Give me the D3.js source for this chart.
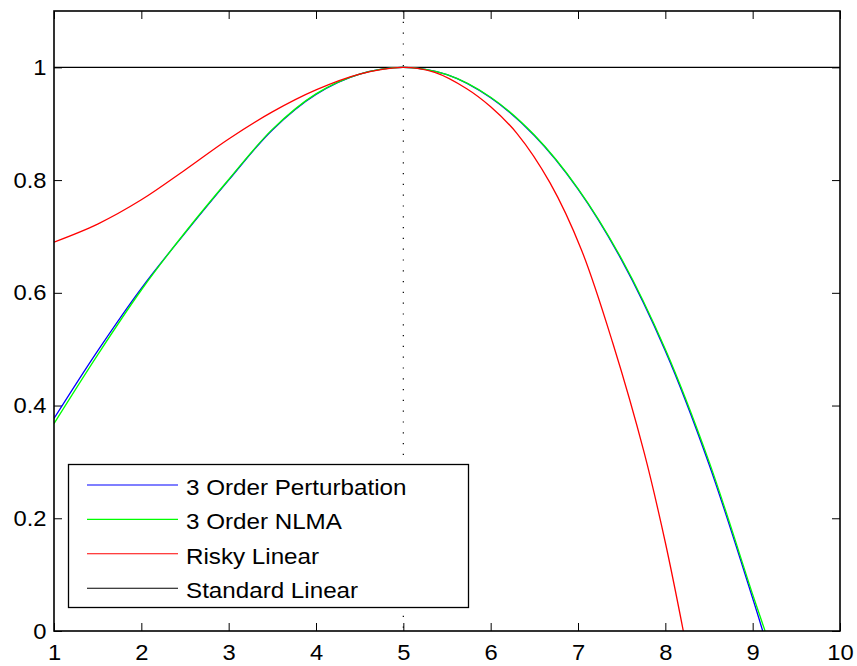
<!DOCTYPE html>
<html>
<head>
<meta charset="utf-8">
<script src="https://cdn.jsdelivr.net/npm/d3@7"></script>
<style>
  html, body { margin: 0; padding: 0; background: #fff; }
  svg { display: block; }
  text { font-family: "Liberation Sans", Arial, Helvetica, sans-serif; fill: #000; }
</style>
</head>
<body>
<svg id="chart" width="857" height="666"></svg>
<script>
// ---- Data ----
const xTicks = [1, 2, 3, 4, 5, 6, 7, 8, 9, 10];
const yTicks = [0, 0.2, 0.4, 0.6, 0.8, 1];
const yTickLabels = ["0", "0.2", "0.4", "0.6", "0.8", "1"];

const seriesNames = ["3 Order Perturbation", "3 Order NLMA", "Risky Linear", "Standard Linear"];
const seriesColors = ["#0000ff", "#00ff00", "#ff0000", "#000000"];

const xPert = [1, 1.5, 2, 2.5, 3, 3.5, 4, 4.5, 5, 5.5, 6, 6.5, 7, 7.5, 8, 8.5, 9, 9.115];
const yPert = [0.377, 0.497, 0.608, 0.706, 0.800, 0.889, 0.952, 0.988, 1.0, 0.987, 0.946, 0.879, 0.784, 0.658, 0.497, 0.296, 0.058, 0.0];

const xNlma = [1, 1.5, 2, 2.5, 3, 3.5, 4, 4.5, 5, 5.5, 6, 6.5, 7, 7.5, 8, 8.5, 9, 9.142];
const yNlma = [0.368, 0.490, 0.605, 0.707, 0.801, 0.890, 0.953, 0.988, 1.0, 0.987, 0.947, 0.880, 0.785, 0.660, 0.500, 0.301, 0.065, 0.0];

const xRisky = [1, 1.5, 2, 2.5, 3, 3.5, 4, 4.5, 5, 5.36, 5.726, 6.0, 6.3, 6.68, 7.04, 7.4, 7.76, 8.0, 8.206];
const yRisky = [0.690, 0.722, 0.765, 0.818, 0.873, 0.921, 0.960, 0.988, 1.0, 0.991, 0.962, 0.930, 0.883, 0.795, 0.676, 0.510, 0.315, 0.157, 0.0];

const xStd = [1, 10];
const yStd = [1, 1];

const refLineX = 5;

// ---- Layout ----
const svg = d3.select("#chart");
const pL = 54, pR = 840, pT = 11, pB = 631;

const x = d3.scaleLinear().domain([1, 10]).range([pL, pR]);
const y = d3.scaleLinear().domain([0, 1.1]).range([pB, pT]);

svg.append("defs").append("clipPath").attr("id", "plotclip")
  .append("rect").attr("x", pL).attr("y", pT).attr("width", pR - pL).attr("height", pB - pT);

svg.append("rect").attr("x", pL).attr("y", pT).attr("width", pR - pL).attr("height", pB - pT)
  .attr("fill", "#fff");

// axes (ticks inward)
const tickFmt = (d) => yTickLabels[yTicks.indexOf(d)];
const gx = svg.append("g").attr("transform", `translate(0,${pB})`)
  .call(d3.axisBottom(x).tickValues(xTicks).tickSizeInner(-8).tickSizeOuter(0).tickPadding(13).tickFormat(d3.format("d")));
const gxTop = svg.append("g").attr("transform", `translate(0,${pT})`)
  .call(d3.axisTop(x).tickValues(xTicks).tickSizeInner(-8).tickSizeOuter(0).tickFormat(""));
const gy = svg.append("g").attr("transform", `translate(${pL},0)`)
  .call(d3.axisLeft(y).tickValues(yTicks).tickSizeInner(-8).tickSizeOuter(0).tickPadding(7).tickFormat(tickFmt));
const gyR = svg.append("g").attr("transform", `translate(${pR},0)`)
  .call(d3.axisRight(y).tickValues(yTicks).tickSizeInner(-8).tickSizeOuter(0).tickFormat(""));

[gx, gxTop, gy, gyR].forEach(g => {
  g.select(".domain").remove();
  g.selectAll(".tick line").attr("stroke", "#000").attr("stroke-width", 1);
  g.selectAll("text").attr("font-size", 22).attr("font-family", "Liberation Sans, Arial, sans-serif")
    .attr("fill", "#000").attr("transform", "scale(1.08,1)");
});

// vertical dotted reference line
svg.append("line")
  .attr("x1", x(refLineX)).attr("x2", x(refLineX))
  .attr("y1", pT).attr("y2", pB)
  .attr("stroke", "#000").attr("stroke-width", 1.2)
  .attr("stroke-dasharray", "1.2,9.6");

// series
const line = d3.line().x(d => x(d[0])).y(d => y(d[1])).curve(d3.curveCatmullRom.alpha(0.5));
const plotG = svg.append("g").attr("clip-path", "url(#plotclip)");
const series = [
  d3.zip(xPert, yPert),
  d3.zip(xNlma, yNlma),
  d3.zip(xRisky, yRisky),
  d3.zip(xStd, yStd)
];
[3, 0, 1, 2].forEach(i => {
  plotG.append("path").datum(series[i])
    .attr("fill", "none")
    .attr("stroke", seriesColors[i])
    .attr("stroke-width", 1.3)
    .attr("d", line);
});

// box
svg.append("rect").attr("x", pL).attr("y", pT).attr("width", pR - pL).attr("height", pB - pT)
  .attr("fill", "none").attr("stroke", "#000").attr("stroke-width", 1.6);

// legend
const lg = svg.append("g");
lg.append("rect").attr("x", 68.5).attr("y", 464.5).attr("width", 400).attr("height", 143)
  .attr("fill", "#fff").attr("stroke", "#000").attr("stroke-width", 1.3);
seriesNames.forEach((name, i) => {
  const yy = 485 + i * 34.4;
  lg.append("line").attr("x1", 87).attr("x2", 178).attr("y1", yy).attr("y2", yy)
    .attr("stroke", seriesColors[i]).attr("stroke-width", 1.1);
  lg.append("g").attr("transform", `translate(186,${yy + 10}) scale(1.1,1)`)
    .append("text").attr("x", 0).attr("y", 0).attr("font-size", 22).text(name);
});
</script>
</body>
</html>
